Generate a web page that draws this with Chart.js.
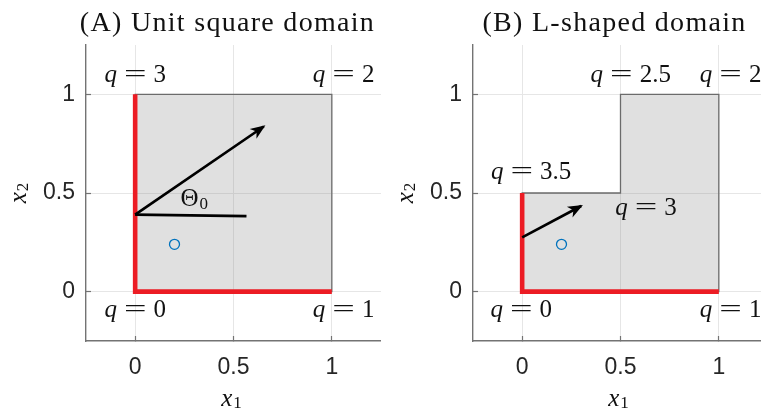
<!DOCTYPE html>
<html>
<head>
<meta charset="utf-8">
<script src="https://cdn.jsdelivr.net/npm/chart.js@4.4.0/dist/chart.umd.min.js"></script>
<style>
  html, body { margin: 0; padding: 0; background: #fff; overflow: hidden; }
  #wrap { position: relative; width: 761px; height: 414px; overflow: hidden; background: #fff; }
  #ca { position: absolute; left: 0; top: 0; width: 381px; height: 414px; }
  #cb { position: absolute; left: 380px; top: 0; width: 388px; height: 414px; }
</style>
</head>
<body>
<div id="wrap">
  <canvas id="ca" width="381" height="414"></canvas>
  <canvas id="cb" width="388" height="414"></canvas>
</div>
<script>
// ---------- data ----------
const axisMin = -0.25, axisMax = 1.25;
const tickValues = [0, 0.5, 1];
const tickLabels = ['0', '0.5', '1'];

// Panel A: unit square
const aTitle = '(A) Unit square domain';
const aFillX = [0, 1], aFillY = [1, 1];
const aOutlineX = [0, 1, 1, 0, 0], aOutlineY = [0, 0, 1, 1, 0];
const aRedX = [0, 0, 1], aRedY = [1, 0, 0];
const aArrowX = [0, 0.654], aArrowY = [0.39, 0.837];
const aRefX = [0, 0.566], aRefY = [0.39, 0.383];
const aSourceX = [0.2], aSourceY = [0.24];
const aLabelText = ['3', '2', '0', '1'];
const aLabelX = [0, 1.06, 0, 1.06];
const aLabelY = [1.063, 1.063, -0.128, -0.128];
const aAngleText = ['Θ', '0'], aAngleX = 0.30, aAngleY = 0.434;

// Panel B: L-shaped domain
const bTitle = '(B) L-shaped domain';
const bFillX = [0, 0.5, 0.5, 1], bFillY = [0.5, 0.5, 1, 1];
const bOutlineX = [0, 1, 1, 0.5, 0.5, 0, 0], bOutlineY = [0, 0, 1, 1, 0.5, 0.5, 0];
const bRedX = [0, 0, 1], bRedY = [0.5, 0, 0];
const bArrowX = [0, 0.30], bArrowY = [0.275, 0.434];
const bSourceX = [0.2], bSourceY = [0.24];
const bLabelText = ['2.5', '2', '3.5', '3', '0', '1'];
const bLabelX = [0.552, 1.06, 0.046, 0.63, -0.005, 1.06];
const bLabelY = [1.063, 1.063, 0.57, 0.39, -0.128, -0.128];

// ---------- helpers ----------
const pts = (xs, ys) => xs.map((x, i) => ({ x: x, y: ys[i] }));
const SERIF = '"Liberation Serif", "Times New Roman", serif';
const TXT = '#111111';

function drawQ(ctx, chart, value, x, y) {
  const px = chart.scales.x.getPixelForValue(x);
  const py = chart.scales.y.getPixelForValue(y);
  const fs = 25, EQ = 1.6, gap = 7;
  ctx.save();
  ctx.fillStyle = TXT;
  ctx.textBaseline = 'alphabetic';
  ctx.textAlign = 'left';
  ctx.font = 'italic ' + fs + 'px ' + SERIF;
  const wq = ctx.measureText('q').width;
  ctx.font = fs + 'px ' + SERIF;
  const we = ctx.measureText('=').width * EQ;
  const wv = ctx.measureText(value).width;
  let cx = px - (wq + gap + we + gap + wv) / 2;
  ctx.font = 'italic ' + fs + 'px ' + SERIF;
  ctx.fillText('q', cx, py);
  cx += wq + gap;
  ctx.font = fs + 'px ' + SERIF;
  ctx.save(); ctx.translate(cx, py); ctx.scale(EQ, 1); ctx.fillText('=', 0, 0); ctx.restore();
  cx += we + gap;
  ctx.fillText(value, cx, py);
  ctx.restore();
}

function drawSub(ctx, main, sub, cx, baseline, italic, mainSize, subSize, subDrop) {
  ctx.font = (italic ? 'italic ' : '') + mainSize + 'px ' + SERIF;
  const wm = ctx.measureText(main).width;
  ctx.font = subSize + 'px ' + SERIF;
  const ws = ctx.measureText(sub).width;
  let x = cx - (wm + 1 + ws) / 2;
  ctx.textAlign = 'left';
  ctx.textBaseline = 'alphabetic';
  ctx.font = (italic ? 'italic ' : '') + mainSize + 'px ' + SERIF;
  ctx.fillText(main, x, baseline);
  ctx.font = subSize + 'px ' + SERIF;
  ctx.fillText(sub, x + wm + 1, baseline + subDrop);
}

const arrowPlugin = {
  id: 'arrowHeads',
  afterDatasetsDraw(chart) {
    const ctx = chart.ctx;
    chart.data.datasets.forEach((ds, i) => {
      if (!ds.arrowHead) return;
      const meta = chart.getDatasetMeta(i);
      const n = meta.data.length;
      const p0 = meta.data[n - 2], p1 = meta.data[n - 1];
      const ang = Math.atan2(p1.y - p0.y, p1.x - p0.x);
      const L = 15, W = 6;
      ctx.save();
      ctx.translate(p1.x, p1.y);
      ctx.rotate(ang);
      ctx.translate(2, 0);
      ctx.beginPath();
      ctx.moveTo(0, 0);
      ctx.lineTo(-L, -W);
      ctx.lineTo(-L * 0.72, 0);
      ctx.lineTo(-L, W);
      ctx.closePath();
      ctx.fillStyle = '#000';
      ctx.fill();
      ctx.restore();
    });
  }
};

const textPlugin = {
  id: 'panelText',
  afterDraw(chart) {
    const o = chart.options.plugins.panelText;
    const ctx = chart.ctx;
    const a = chart.chartArea;
    ctx.save();
    ctx.fillStyle = TXT;
    // title
    ctx.font = '28px ' + SERIF;
    ctx.textAlign = 'center';
    ctx.textBaseline = 'alphabetic';
    if ('letterSpacing' in ctx) ctx.letterSpacing = '1.3px';
    ctx.fillText(o.title, (a.left + a.right) / 2 - 6, 31);
    if ('letterSpacing' in ctx) ctx.letterSpacing = '0px';
    // x axis title
    drawSub(ctx, 'x', '1', (a.left + a.right) / 2 - 2, 406, true, 25, 17, 2);
    // y axis title (rotated)
    ctx.save();
    ctx.translate(a.left - 60, (a.top + a.bottom) / 2);
    ctx.rotate(-Math.PI / 2);
    drawSub(ctx, 'x', '2', 0, 0, true, 25, 17, 2);
    ctx.restore();
    // q labels
    o.labelText.forEach((t, i) => drawQ(ctx, chart, t, o.labelX[i], o.labelY[i]));
    // angle label
    if (o.angleText) {
      const px = chart.scales.x.getPixelForValue(o.angleX);
      const py = chart.scales.y.getPixelForValue(o.angleY);
      drawSub(ctx, o.angleText[0], o.angleText[1], px, py, false, 25, 17, 3);
    }
    ctx.restore();
  }
};

function makeScales(yWidth) {
  const common = {
    type: 'linear',
    min: axisMin,
    max: axisMax,
    afterBuildTicks: s => { s.ticks = tickValues.map(v => ({ value: v })); },
    grid: {
      color: '#e6e6e6',
      lineWidth: 1,
      drawTicks: true,
      tickLength: -5,
      tickColor: '#737373',
      tickWidth: 1.2
    },
    border: { display: true, color: '#737373', width: 1.4 },
    ticks: {
      font: { family: '"Liberation Sans", Arial, sans-serif', size: 23 },
      color: '#262626',
      padding: 18,
      callback: v => { const k = tickValues.indexOf(v); return k >= 0 ? tickLabels[k] : ''; }
    }
  };
  return {
    x: Object.assign({}, common, {
      position: 'bottom',
      afterFit: s => { s.height = 73; }
    }),
    y: Object.assign({}, common, {
      position: 'left',
      ticks: Object.assign({}, common.ticks, { padding: 16 }),
      afterFit: s => { s.width = yWidth; }
    })
  };
}

function makeDatasets(p) {
  return [
    { // source point
      data: pts(p.srcX, p.srcY), showLine: false, pointRadius: 5, pointBorderWidth: 1.3,
      pointBorderColor: '#0072BD', pointBackgroundColor: 'rgba(0,0,0,0)', order: 1
    },
    { // arrow
      data: pts(p.arrX, p.arrY), borderColor: '#000', borderWidth: 2.7, pointRadius: 0,
      fill: false, arrowHead: true, order: 2
    },
    ...(p.refX ? [{ // reference line
      data: pts(p.refX, p.refY), borderColor: '#000', borderWidth: 2.8, pointRadius: 0,
      fill: false, order: 2
    }] : []),
    { // Dirichlet boundary (red)
      data: pts(p.redX, p.redY), borderColor: '#ec1c24', borderWidth: 4.6, pointRadius: 0,
      fill: false, borderJoinStyle: 'miter', borderCapStyle: 'butt', order: 3
    },
    { // outline
      data: pts(p.outX, p.outY), borderColor: '#6b6b6b', borderWidth: 1.3, pointRadius: 0,
      fill: false, borderJoinStyle: 'miter', order: 4
    },
    { // filled domain
      data: pts(p.fillX, p.fillY), borderColor: 'rgba(0,0,0,0)', borderWidth: 0, pointRadius: 0,
      fill: { value: 0 }, backgroundColor: 'rgba(126,126,126,0.24)', order: 5
    }
  ];
}

function makeChart(id, yWidth, p, textOpts) {
  return new Chart(document.getElementById(id), {
    type: 'line',
    data: { datasets: makeDatasets(p) },
    options: {
      responsive: false,
      animation: false,
      devicePixelRatio: 1,
      layout: { autoPadding: false, padding: { top: 45, left: 0, right: 0, bottom: 0 } },
      scales: makeScales(yWidth),
      plugins: {
        legend: { display: false },
        tooltip: { enabled: false },
        panelText: textOpts
      },
      elements: { line: { tension: 0 } }
    },
    plugins: [arrowPlugin, textPlugin]
  });
}

makeChart('ca', 86, {
  srcX: aSourceX, srcY: aSourceY, arrX: aArrowX, arrY: aArrowY, refX: aRefX, refY: aRefY,
  redX: aRedX, redY: aRedY, outX: aOutlineX, outY: aOutlineY, fillX: aFillX, fillY: aFillY
}, {
  title: aTitle, labelText: aLabelText, labelX: aLabelX, labelY: aLabelY,
  angleText: aAngleText, angleX: aAngleX, angleY: aAngleY
});

makeChart('cb', 93, {
  srcX: bSourceX, srcY: bSourceY, arrX: bArrowX, arrY: bArrowY,
  redX: bRedX, redY: bRedY, outX: bOutlineX, outY: bOutlineY, fillX: bFillX, fillY: bFillY
}, {
  title: bTitle, labelText: bLabelText, labelX: bLabelX, labelY: bLabelY
});
</script>
</body>
</html>
